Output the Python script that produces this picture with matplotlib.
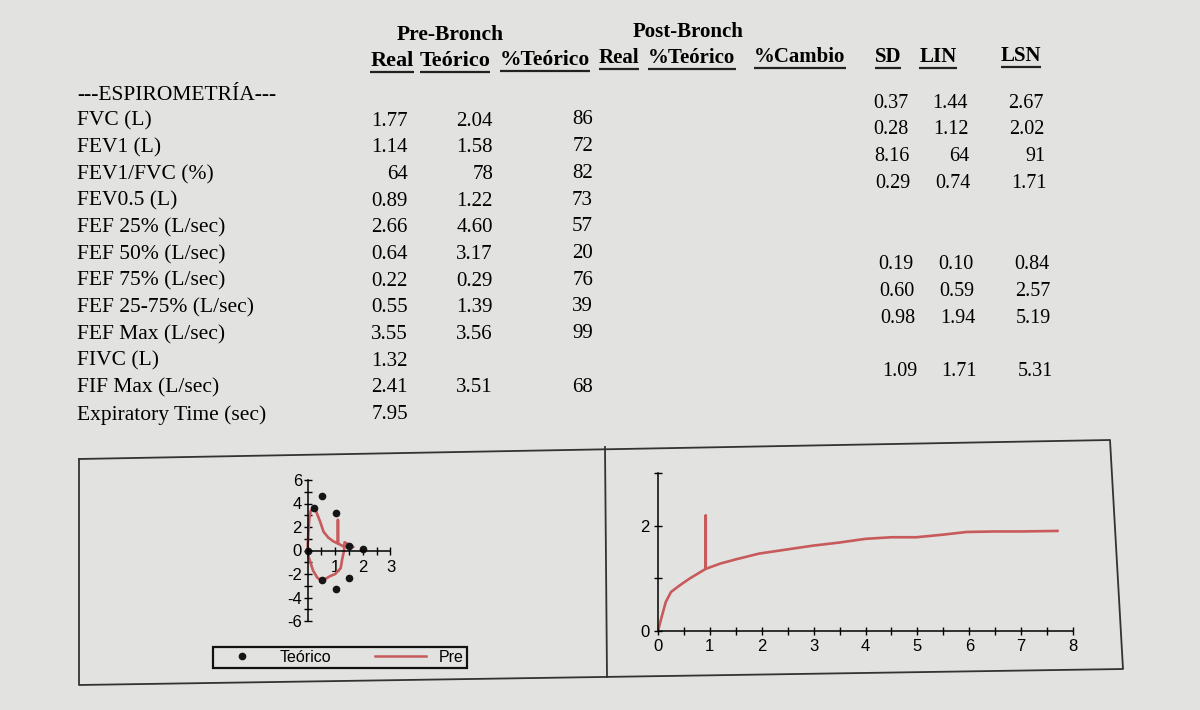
import numpy as np
import matplotlib
matplotlib.use("Agg")
import matplotlib.pyplot as plt
from matplotlib.lines import Line2D
from matplotlib.ticker import MultipleLocator, FixedLocator

plt.rcParams["axes.unicode_minus"] = False

## Table data
labels = ["FVC (L)", "FEV1 (L)", "FEV1/FVC (%)", "FEV0.5 (L)", "FEF 25% (L/sec)",
          "FEF 50% (L/sec)", "FEF 75% (L/sec)", "FEF 25-75% (L/sec)", "FEF Max (L/sec)",
          "FIVC (L)", "FIF Max (L/sec)", "Expiratory Time (sec)"]
pre_real = ["1.77", "1.14", "64", "0.89", "2.66", "0.64", "0.22", "0.55", "3.55", "1.32", "2.41", "7.95"]
pre_teo = ["2.04", "1.58", "78", "1.22", "4.60", "3.17", "0.29", "1.39", "3.56", "", "3.51", ""]
pre_pct = ["86", "72", "82", "73", "57", "20", "76", "39", "99", "", "68", ""]
sd = ["0.37", "0.28", "8.16", "0.29", "", "", "0.19", "0.60", "0.98", "", "1.09", ""]
lin = ["1.44", "1.12", "64", "0.74", "", "", "0.10", "0.59", "1.94", "", "1.71", ""]
lsn = ["2.67", "2.02", "91", "1.71", "", "", "0.84", "2.57", "5.19", "", "5.31", ""]

## Flow-volume loop (L, L/s)
teo_vol = [0.0, 0.22, 0.53, 1.04, 1.50, 2.00, 0.53, 1.04, 1.50]
teo_flow = [0.0, 3.6, 4.6, 3.2, 0.4, 0.1, -2.5, -3.3, -2.3]
pre_vol = [0.0, 0.03, 0.07, 0.12, 0.22, 0.30, 0.45, 0.58, 0.75, 0.94, 1.10, 1.10, 1.10,
           1.30, 1.50, 1.66, 1.34, 1.32, 1.25, 1.20, 1.00, 0.80, 0.52, 0.35, 0.20, 0.05, 0.0]
pre_flow = [0.0, 1.5, 2.8, 3.4, 3.6, 3.4, 2.5, 1.6, 1.1, 0.77, 0.6, 2.6, 0.6,
            0.35, 0.25, 0.3, 0.7, 0.0, -0.8, -1.5, -2.0, -2.2, -2.6, -2.3, -1.7, -0.6, 0.0]

## Volume-time curve (s, L)
t_sec = [0.0, 0.06, 0.15, 0.25, 0.41, 0.60, 0.92, 0.92, 0.92, 1.20, 1.50, 1.95, 2.50, 2.98,
         3.50, 4.00, 4.50, 4.98, 5.50, 5.95, 6.50, 7.00, 7.70]
vol_l = [0.0, 0.23, 0.55, 0.74, 0.86, 0.99, 1.18, 2.19, 1.18, 1.28, 1.36, 1.47, 1.55, 1.62,
         1.68, 1.75, 1.78, 1.78, 1.83, 1.88, 1.89, 1.89, 1.90]

W, H = 1200, 710
paper = "#e2e2e0"
red = "#c85a5c"
serif = "Liberation Serif"
sans = "Liberation Sans"

fig = plt.figure(figsize=(12, 7.1), dpi=100, facecolor=paper)
bg = fig.add_axes([0, 0, 1, 1])
bg.set_xlim(0, W)
bg.set_ylim(H, 0)
bg.axis("off")


def px_axes(x0, y0, x1, y1):
    # axes from pixel box (top-left, bottom-right)
    return fig.add_axes([x0 / W, 1 - y1 / H, (x1 - x0) / W, (y1 - y0) / H])


# headers
bg.text(450, 35, "Pre-Bronch", ha="center", va="center", fontsize=15.5, fontweight="bold", family=serif)
bg.text(688, 32, "Post-Bronch", ha="center", va="center", fontsize=15, fontweight="bold", family=serif)
heads = [("Real", 392, 61, 16), ("Teórico", 455, 61, 16), ("%Teórico", 545, 60, 15.5),
         ("Real", 619, 58, 15), ("%Teórico", 692, 58, 15), ("%Cambio", 800, 57, 15),
         ("SD", 888, 57, 15), ("LIN", 938, 57, 15), ("LSN", 1021, 56, 15)]
htexts = []
for s, x, y, fs in heads:
    htexts.append(bg.text(x, y, s, ha="center", va="center", fontsize=fs, fontweight="bold", family=serif))

bg.text(77, 95, "---ESPIROMETRÍA---", ha="left", va="center", fontsize=15.5, family=serif)

for i, lab in enumerate(labels):
    y = 121 + 26.7 * i
    bg.text(77, y, lab, ha="left", va="center", fontsize=15.5, family=serif)
    bg.text(408, y, pre_real[i], ha="right", va="center", fontsize=15, family=serif)
    bg.text(493, y, pre_teo[i], ha="right", va="center", fontsize=15, family=serif)
    bg.text(593, y - 1, pre_pct[i], ha="right", va="center", fontsize=15, family=serif)
    yr = 103 + 26.9 * i
    dx = 0.9 * i
    bg.text(908 + dx, yr, sd[i], ha="right", va="center", fontsize=14.5, family=serif)
    bg.text(968 + dx, yr, lin[i], ha="right", va="center", fontsize=14.5, family=serif)
    bg.text(1044 + dx, yr, lsn[i], ha="right", va="center", fontsize=14.5, family=serif)

# underline the column headers
fig.canvas.draw()
inv = bg.transData.inverted()
for t in htexts:
    bb = t.get_window_extent()
    (xa, ya), (xb, yb) = inv.transform([[bb.x0, bb.y0], [bb.x1, bb.y1]])
    bg.plot([xa, xb], [ya + 1, ya + 1], color="#222222", lw=1.6, solid_capstyle="butt")

# outer box and divider
box_x = [79, 1110, 1123, 79, 79]
box_y = [459, 440, 669, 685, 459]
bg.plot(box_x, box_y, color="#333333", lw=1.3)
bg.plot([605, 607], [447, 677], color="#333333", lw=1.3)

# flow-volume loop
ax1 = px_axes(307.5, 480, 390.5, 621)
ax1.set_facecolor("none")
ax1.plot(pre_vol, pre_flow, color=red, lw=1.9, clip_on=False)
ax1.plot(teo_vol, teo_flow, "o", color="#151515", ms=4.5, clip_on=False)
ax1.set_xlim(0, 3)
ax1.set_ylim(-6, 6)
ax1.spines["left"].set_position(("data", 0))
ax1.spines["bottom"].set_position(("data", 0))
ax1.spines["top"].set_visible(False)
ax1.spines["right"].set_visible(False)
ax1.xaxis.set_major_locator(FixedLocator([1, 2, 3]))
ax1.xaxis.set_minor_locator(MultipleLocator(0.5))
ax1.yaxis.set_major_locator(MultipleLocator(2))
ax1.yaxis.set_minor_locator(MultipleLocator(1))
ax1.tick_params(which="both", direction="inout", length=6, width=1, labelsize=12, pad=1)
ax1.tick_params(axis="x", pad=4)
for lab in ax1.get_xticklabels() + ax1.get_yticklabels():
    lab.set_family(sans)
for sp in ax1.spines.values():
    sp.set_linewidth(1.1)

# legend
handles = [Line2D([], [], marker="o", color="#151515", ms=4.5, ls="none"),
           Line2D([], [], color=red, lw=1.8)]
leg = fig.legend(handles, ["Teórico", "Pre"], ncol=2, mode="expand", loc="lower left",
                 bbox_to_anchor=(213 / W, 1 - 668 / H, 254 / W, 27 / H), borderaxespad=0,
                 handlelength=3.2, fancybox=False, framealpha=1, facecolor=paper,
                 edgecolor="#111111", prop={"family": sans, "size": 11.5}, borderpad=0.2)
leg.get_frame().set_linewidth(1.6)

# volume-time curve
ax2 = px_axes(658, 473, 1073, 631)
ax2.set_facecolor("none")
ax2.plot(t_sec, vol_l, color=red, lw=1.9)
ax2.set_xlim(0, 8)
ax2.set_ylim(0, 3)
ax2.spines["top"].set_visible(False)
ax2.spines["right"].set_visible(False)
ax2.xaxis.set_major_locator(MultipleLocator(1))
ax2.xaxis.set_minor_locator(MultipleLocator(0.5))
ax2.set_yticks([0, 1, 2, 3])
ax2.set_yticklabels(["0", "", "2", ""])
ax2.tick_params(which="both", direction="inout", length=6, width=1, labelsize=12, pad=3)
for lab in ax2.get_xticklabels() + ax2.get_yticklabels():
    lab.set_family(sans)
for sp in ax2.spines.values():
    sp.set_linewidth(1.1)

fig.savefig("out.png", dpi=100, facecolor=paper)
